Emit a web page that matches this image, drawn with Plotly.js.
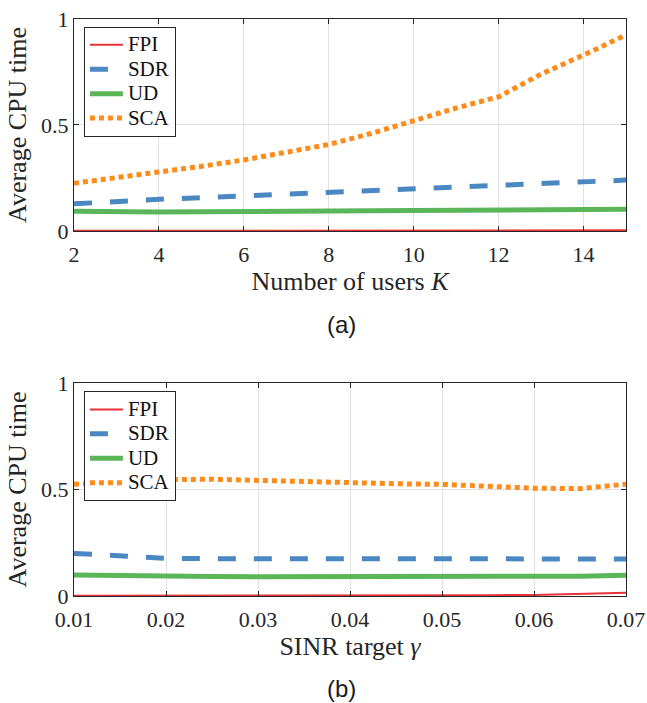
<!DOCTYPE html>
<html>
<head>
<meta charset="utf-8">
<script src="https://cdn.plot.ly/plotly-3.0.1.min.js"></script>
<style>html,body{margin:0;padding:0;background:#fff;}#chart{width:647px;height:703px;}</style>
</head>
<body>
<div id="chart"></div>
<script>
// Panel (a): CPU time vs number of users K
const usersK = [2, 3, 4, 5, 6, 7, 8, 9, 10, 11, 12, 13, 14, 15];
const fpiA = [0.001, 0.001, 0.001, 0.001, 0.001, 0.001, 0.002, 0.002, 0.002, 0.002, 0.002, 0.003, 0.003, 0.003];
const sdrA = [0.128, 0.14, 0.15, 0.157, 0.165, 0.175, 0.183, 0.192, 0.2, 0.207, 0.215, 0.225, 0.233, 0.24];
const udA  = [0.093, 0.09, 0.09, 0.091, 0.091, 0.092, 0.093, 0.095, 0.097, 0.098, 0.099, 0.1, 0.101, 0.102];
const scaA = [0.225, 0.25, 0.275, 0.305, 0.335, 0.37, 0.408, 0.46, 0.522, 0.58, 0.633, 0.74, 0.83, 0.925];

// Panel (b): CPU time vs SINR target gamma
const sinrTarget = [0.01, 0.015, 0.02, 0.025, 0.03, 0.035, 0.04, 0.045, 0.05, 0.055, 0.06, 0.065, 0.07];
const fpiB = [0.001, 0.001, 0.001, 0.001, 0.001, 0.001, 0.002, 0.002, 0.003, 0.004, 0.005, 0.009, 0.015];
const sdrB = [0.2, 0.189, 0.177, 0.175, 0.175, 0.174, 0.174, 0.175, 0.175, 0.175, 0.175, 0.174, 0.174];
const udB  = [0.098, 0.094, 0.092, 0.091, 0.09, 0.09, 0.09, 0.09, 0.09, 0.09, 0.091, 0.093, 0.097];
const scaB = [0.525, 0.538, 0.546, 0.548, 0.542, 0.535, 0.53, 0.527, 0.524, 0.514, 0.506, 0.504, 0.525];

const seriesNames = ['FPI', 'SDR', 'UD', 'SCA'];
const yTickVals = [0, 0.5, 1];
const yTickText = ['0', '0.5', '1'];
const kTicks = [2, 4, 6, 8, 10, 12, 14];
const gammaTicks = [0.01, 0.02, 0.03, 0.04, 0.05, 0.06, 0.07];

const styles = [
  {color: '#E8323A', width: 2, dash: 'solid'},
  {color: '#4A88C4', width: 5, dash: '18px,18px'},
  {color: '#5BB65A', width: 5, dash: 'solid'},
  {color: '#FF8C1A', width: 5, dash: '5px,4px'}
];

// legend labels drawn a little larger than the legend row pitch
const legendLabel = n => '<span style="font-size:21px">' + n + '</span>';

const dataA = [fpiA, sdrA, udA, scaA];
const dataB = [fpiB, sdrB, udB, scaB];
const traces = [];
dataA.forEach((ys, i) => traces.push({
  x: usersK, y: ys, name: legendLabel(seriesNames[i]), type: 'scatter', mode: 'lines',
  line: styles[i], xaxis: 'x', yaxis: 'y', legend: 'legend'
}));
dataB.forEach((ys, i) => traces.push({
  x: sinrTarget, y: ys, name: legendLabel(seriesNames[i]), type: 'scatter', mode: 'lines',
  line: styles[i], xaxis: 'x2', yaxis: 'y2', legend: 'legend2'
}));

const serif = 'Liberation Serif, Times New Roman, serif';
const axisCommon = {
  showline: true, linecolor: '#262626', linewidth: 1, mirror: 'ticks',
  ticks: 'inside', ticklen: 5, tickcolor: '#262626', tickwidth: 1,
  showgrid: true, gridcolor: '#e2e2e2', gridwidth: 1, zeroline: false,
  tickfont: {family: serif, size: 22, color: '#262626'}
};
const titleFont = {family: serif, size: 26, color: '#262626'};

const legendCommon = {
  xanchor: 'left', yanchor: 'top', bgcolor: '#ffffff',
  bordercolor: '#262626', borderwidth: 1, itemwidth: 33,
  font: {family: serif, size: 16.5, color: '#111111'},
  tracegroupgap: 0
};

const layout = {
  width: 647, height: 703,
  margin: {l: 74, r: 21, t: 19, b: 107},
  paper_bgcolor: '#ffffff', plot_bgcolor: '#ffffff',
  showlegend: true,
  xaxis: Object.assign({}, axisCommon, {
    domain: [0, 1], anchor: 'y', range: [2, 15], tickvals: kTicks, ticklabelstandoff: 4,
    title: {text: 'Number of users <i>K</i>', font: titleFont, standoff: 4}
  }),
  yaxis: Object.assign({}, axisCommon, {
    domain: [0.6326, 1], anchor: 'x', range: [0, 1], tickvals: yTickVals, ticktext: yTickText,
    title: {text: 'Average CPU time', font: titleFont, standoff: 6}
  }),
  xaxis2: Object.assign({}, axisCommon, {
    domain: [0, 1], anchor: 'y2', range: [0.01, 0.07], tickvals: gammaTicks, tickformat: '.2f', ticklabelstandoff: 4,
    title: {text: 'SINR target <i>γ</i>', font: titleFont, standoff: 4}
  }),
  yaxis2: Object.assign({}, axisCommon, {
    domain: [0, 0.3692], anchor: 'x2', range: [0, 1], tickvals: yTickVals, ticktext: yTickText,
    title: {text: 'Average CPU time', font: titleFont, standoff: 6}
  }),
  legend: Object.assign({}, legendCommon, {x: 0.018, y: 0.987}),
  legend2: Object.assign({}, legendCommon, {x: 0.018, y: 0.355}),
  annotations: [
    {text: '(a)', xref: 'paper', yref: 'paper', x: 0.4855, y: 0.4697, xanchor: 'center', yanchor: 'middle',
     showarrow: false, font: {family: 'Liberation Sans, Arial, sans-serif', size: 24, color: '#1a1a1a'}},
    {text: '(b)', xref: 'paper', yref: 'paper', x: 0.4855, y: -0.161, xanchor: 'center', yanchor: 'middle',
     showarrow: false, font: {family: 'Liberation Sans, Arial, sans-serif', size: 24, color: '#1a1a1a'}}
  ]
};

Plotly.newPlot('chart', traces, layout, {displayModeBar: false, staticPlot: true});
</script>
</body>
</html>
